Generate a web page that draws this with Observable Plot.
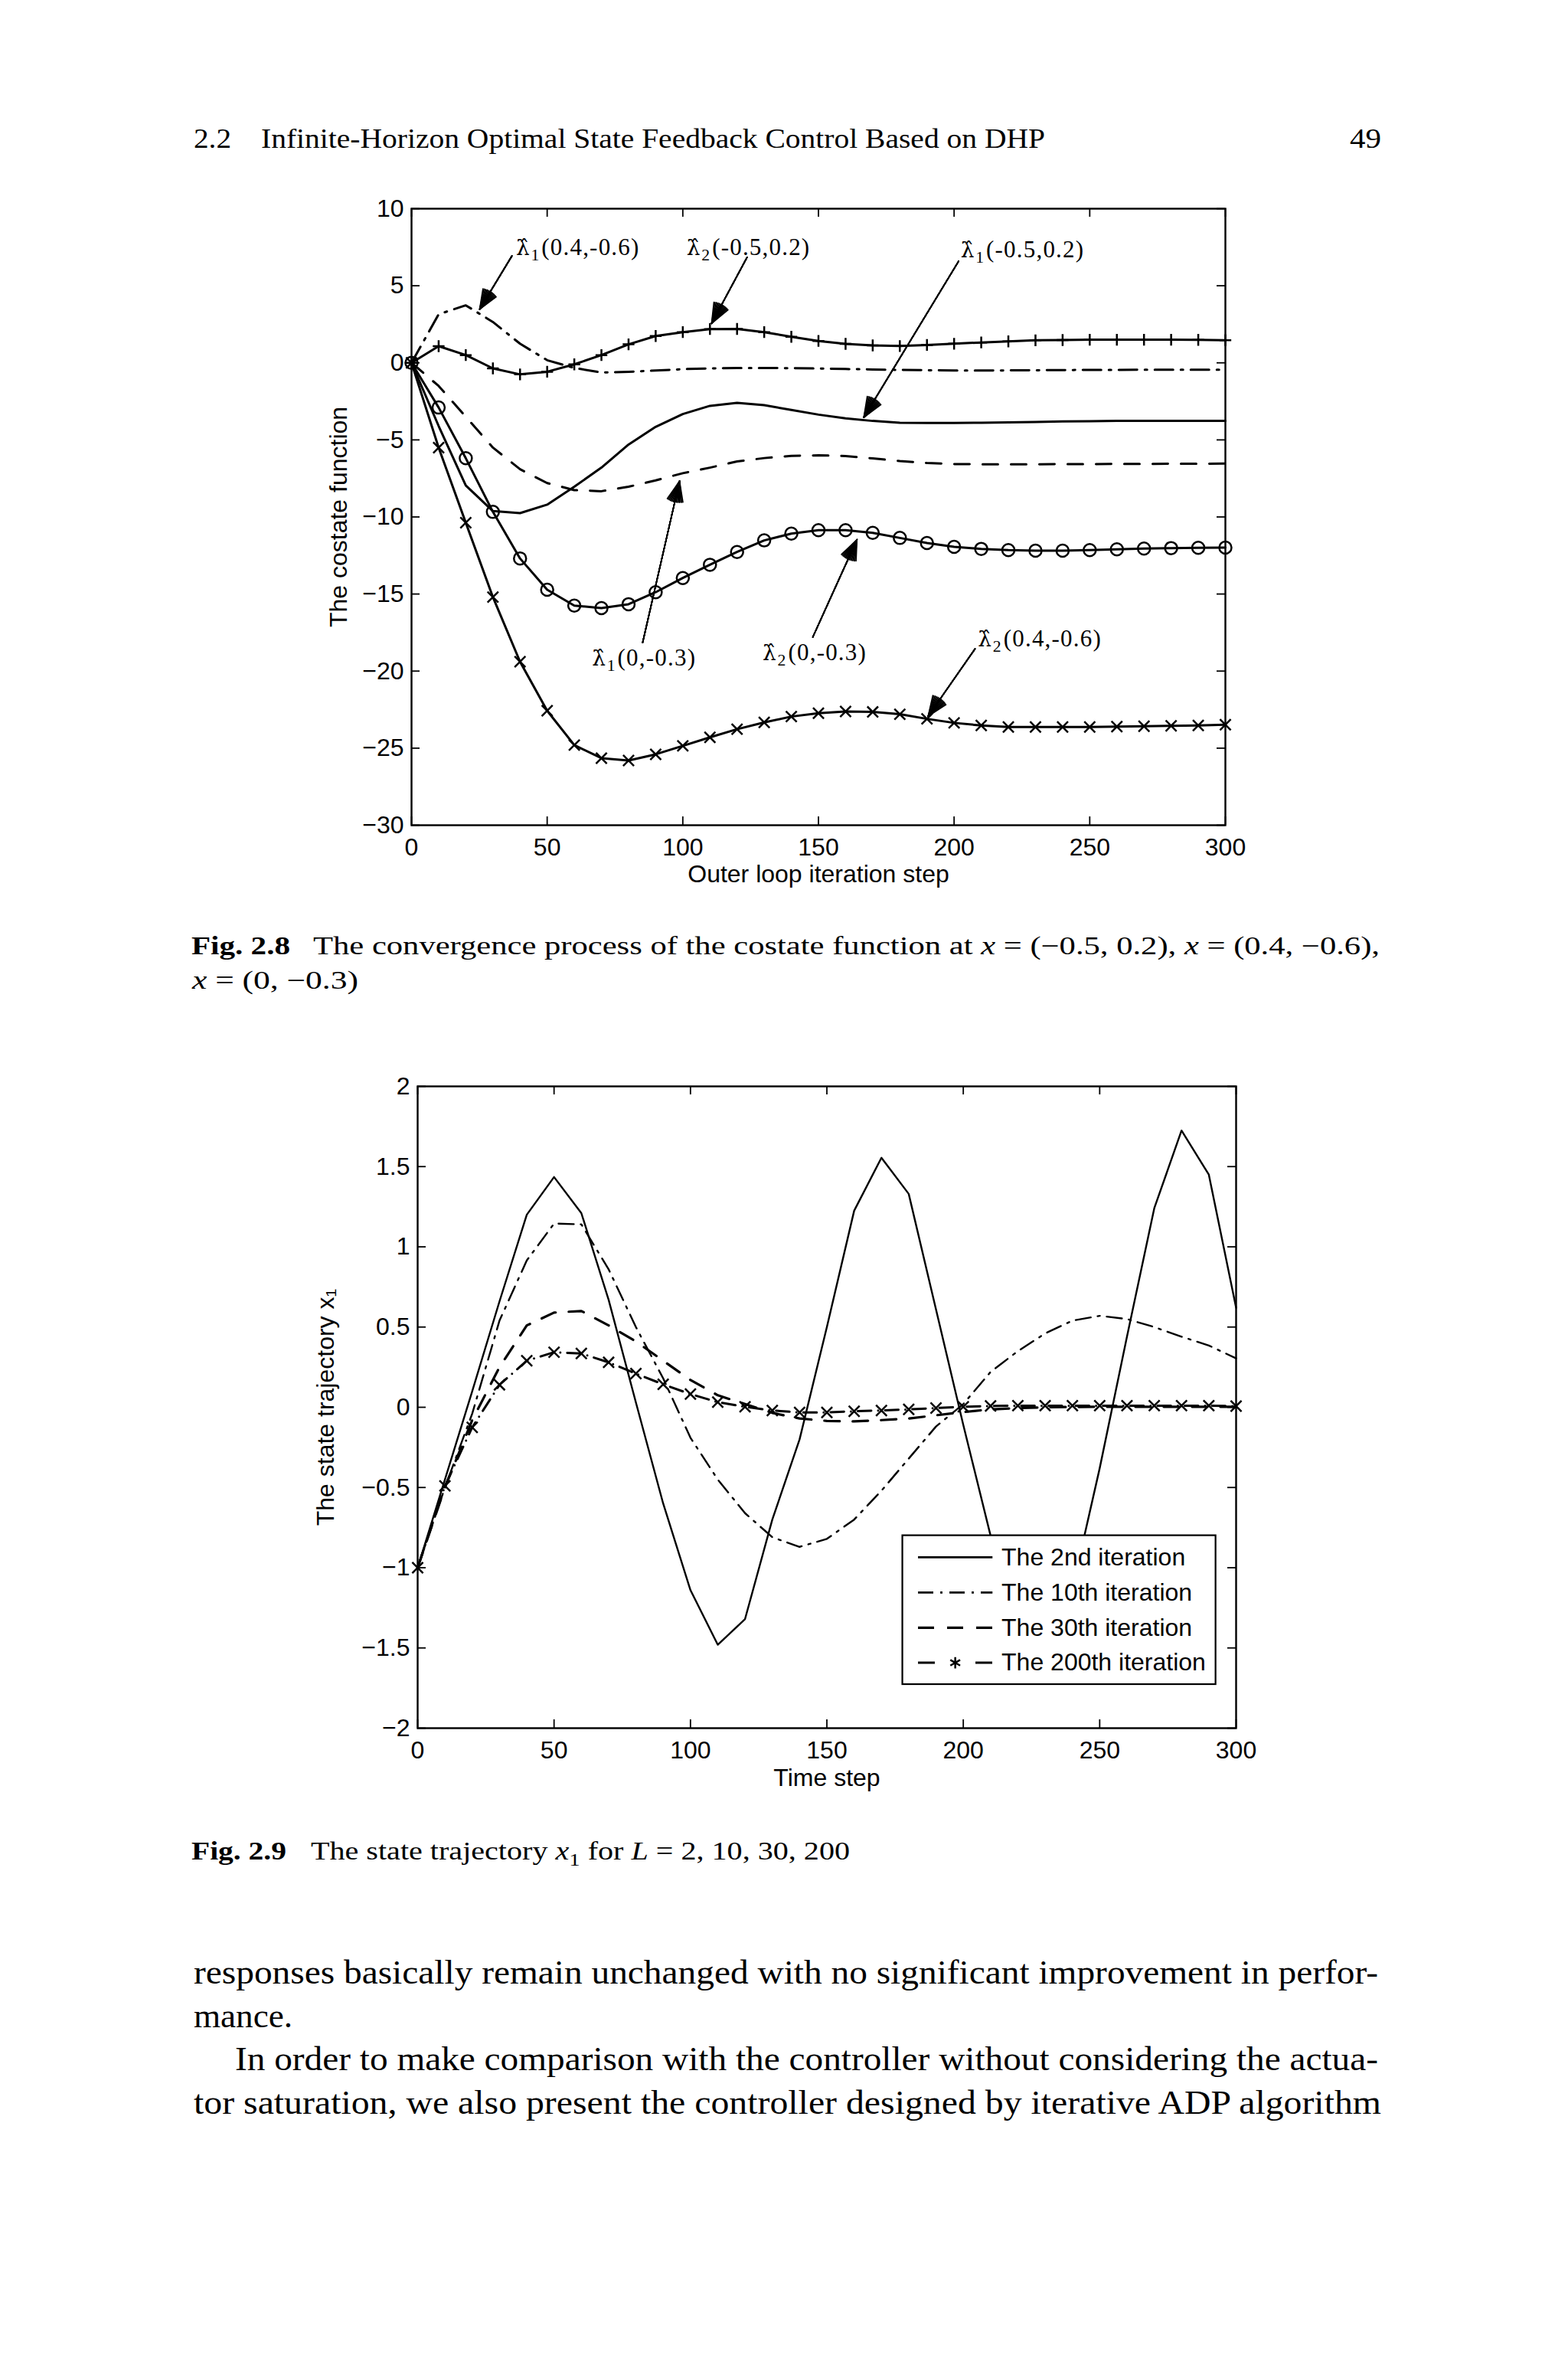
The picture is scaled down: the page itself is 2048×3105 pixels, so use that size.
<!DOCTYPE html>
<html><head><meta charset="utf-8">
<script src="https://cdn.jsdelivr.net/npm/d3@7"></script>
<script src="https://cdn.jsdelivr.net/npm/@observablehq/plot@0.6"></script>
<style>
html,body{margin:0;padding:0;background:#fff;}
#page{position:relative;width:2048px;height:3105px;background:#fff;overflow:hidden;}
#page .chart{position:absolute;}
#pagetext{position:absolute;left:0;top:0;}
</style></head><body><div id="page"></div>
<script>
// ---------- DATA ----------
const steps = [0,10,20,30,40,50,60,70,80,90,100,110,120,130,140,150,160,170,180,190,200,210,220,230,240,250,260,270,280,290,300];

// Fig 2.8 – costate function
const lam1_04_06 = [0, 3.15, 3.73, 2.65, 1.24, 0.17, -0.33, -0.63, -0.58, -0.5, -0.41, -0.36, -0.33, -0.33, -0.35, -0.37, -0.4, -0.43, -0.46, -0.48, -0.5, -0.5, -0.49, -0.48, -0.47, -0.46, -0.46, -0.45, -0.45, -0.45, -0.45];
const lam2_05_02 = [0, 1.08, 0.5, -0.36, -0.75, -0.58, -0.1, 0.5, 1.2, 1.74, 1.99, 2.19, 2.2, 1.99, 1.69, 1.42, 1.23, 1.13, 1.09, 1.16, 1.24, 1.32, 1.39, 1.46, 1.48, 1.5, 1.5, 1.5, 1.5, 1.49, 1.47];
const lam1_05_02 = [0, -4.1, -7.96, -9.62, -9.75, -9.2, -8.04, -6.8, -5.3, -4.15, -3.32, -2.79, -2.6, -2.75, -3.06, -3.36, -3.6, -3.77, -3.89, -3.9, -3.9, -3.89, -3.86, -3.84, -3.8, -3.79, -3.77, -3.77, -3.76, -3.76, -3.76];
const lam1_0_03 = [0, -1.5, -3.5, -5.5, -6.9, -7.8, -8.26, -8.33, -8.04, -7.63, -7.16, -6.8, -6.4, -6.18, -6.04, -6.0, -6.05, -6.2, -6.37, -6.5, -6.57, -6.58, -6.58, -6.58, -6.57, -6.57, -6.56, -6.56, -6.55, -6.55, -6.54];
const lam2_0_03 = [0, -2.9, -6.19, -9.67, -12.69, -14.72, -15.75, -15.91, -15.66, -14.88, -13.96, -13.1, -12.27, -11.52, -11.08, -10.86, -10.86, -11.03, -11.36, -11.69, -11.94, -12.07, -12.15, -12.19, -12.19, -12.15, -12.1, -12.05, -12.02, -12.0, -11.99];
const lam2_04_06 = [0, -5.5, -10.37, -15.2, -19.39, -22.57, -24.8, -25.65, -25.8, -25.4, -24.85, -24.3, -23.77, -23.33, -22.95, -22.73, -22.62, -22.65, -22.8, -23.1, -23.36, -23.53, -23.63, -23.63, -23.63, -23.63, -23.6, -23.58, -23.55, -23.53, -23.48];

const xTicks = [0, 50, 100, 150, 200, 250, 300];
const yTicks1 = [-30, -25, -20, -15, -10, -5, 0, 5, 10];
const xLabel1 = "Outer loop iteration step";
const yLabel1 = "The costate function";

const annoLabels = ["λ̂₁(0.4,-0.6)", "λ̂₂(-0.5,0.2)", "λ̂₁(-0.5,0.2)", "λ̂₁(0,-0.3)", "λ̂₂(0,-0.3)", "λ̂₂(0.4,-0.6)"];
const annoTextX = [61.3, 124.2, 225.2, 85.7, 148.6, 231.6];
const annoTextY = [7.5, 7.5, 7.34, -19.14, -18.8, -17.9];
const arrowX1 = [37, 123.7, 201.7, 85.2, 147.9, 207.7];
const arrowY1 = [6.93, 6.85, 6.6, -18.15, -17.8, -18.56];
const arrowX2 = [25.1, 110.6, 166.7, 98.8, 164.2, 190.4];
const arrowY2 = [3.47, 2.55, -3.55, -7.67, -11.47, -22.94];

// Fig 2.9 – state trajectory x1
const iter2 = [-1, -0.45, 0.1, 0.66, 1.2, 1.435, 1.21, 0.67, 0.03, -0.6, -1.14, -1.48, -1.32, -0.7, -0.2, 0.5, 1.225, 1.555, 1.33, 0.61, -0.11, -0.8, -1.55, -1.6, -1.13, -0.38, 0.44, 1.24, 1.725, 1.45, 0.62];
const iter10 = [-1, -0.5, -0.04, 0.54, 0.915, 1.145, 1.14, 0.86, 0.5, 0.18, -0.19, -0.45, -0.66, -0.81, -0.87, -0.82, -0.7, -0.52, -0.32, -0.12, 0.02, 0.22, 0.35, 0.46, 0.54, 0.57, 0.55, 0.5, 0.44, 0.385, 0.305];
const iter30 = [-1, -0.5, -0.08, 0.25, 0.51, 0.59, 0.6, 0.51, 0.41, 0.29, 0.17, 0.075, 0.02, -0.035, -0.07, -0.085, -0.088, -0.08, -0.07, -0.05, -0.03, -0.013, -0.005, 0, 0.002, 0.003, 0.003, 0.003, 0.003, 0.003, 0.003];
const iter200 = [-1, -0.49, -0.125, 0.14, 0.29, 0.343, 0.335, 0.28, 0.21, 0.143, 0.082, 0.032, 0.003, -0.02, -0.032, -0.032, -0.025, -0.02, -0.013, -0.005, 0.003, 0.008, 0.01, 0.01, 0.01, 0.01, 0.01, 0.01, 0.01, 0.01, 0.007];

const yTicks2 = [-2, -1.5, -1, -0.5, 0, 0.5, 1, 1.5, 2];
const xLabel2 = "Time step";
const yLabel2 = "The state trajectory x₁";
const legendLabels = ["The 2nd iteration", "The 10th iteration", "The 30th iteration", "The 200th iteration"];
const legendRowY = [-0.935, -1.155, -1.374, -1.592];
const legendBox = {x1: 177.8, x2: 292.6, y1: -0.8, y2: -1.728};
const legendSample = {x1: 183.4, x2: 210.7, tx: 214};

// ---------- HELPERS ----------
const series = arr => steps.map((x, i) => ({x, y: arr[i]}));
const fmt = d => (d < 0 ? "\u2212" : "") + Math.abs(d);
const anno = annoLabels.map((label, i) => ({label, tx: annoTextX[i], ty: annoTextY[i], x1: arrowX1[i], y1: arrowY1[i], x2: arrowX2[i], y2: arrowY2[i]}));
const sansFont = "Liberation Sans, Arial, Helvetica, sans-serif";
const serifFont = "Liberation Serif, Times New Roman, serif";
const FS = 32;

function boxTicks(yt, ih, iw) {
  const len = 11, sw = 1.8;
  return [
    Plot.ruleX(xTicks, {x: d => d, insetTop: ih - len, stroke: "black", strokeWidth: sw}),
    Plot.ruleX(xTicks, {x: d => d, insetBottom: ih - len, stroke: "black", strokeWidth: sw}),
    Plot.ruleY(yt, {y: d => d, insetRight: iw - len, stroke: "black", strokeWidth: sw}),
    Plot.ruleY(yt, {y: d => d, insetLeft: iw - len, stroke: "black", strokeWidth: sw})
  ];
}
function filledArrows(data) {
  const sw = 1.6;
  return [44, 38, 32, 26, 20, 14, 8, 3].map(a => Plot.arrow(data, {
    x1: "x1", y1: "y1", x2: "x2", y2: "y2", stroke: "black", strokeWidth: sw,
    headAngle: a, headLength: 42 / sw
  }));
}
// typeset "λ̂₁(...)" labels: hatted lambda (DejaVu handles the combining hat), real subscript
function typesetLambda(svgNode, size) {
  const subMap = {"₁": "1", "₂": "2"};
  d3.select(svgNode).selectAll("text").each(function () {
    const s = this.textContent;
    if (!s.startsWith("λ")) return;
    const sub = subMap[s[2]] || "";
    const rest = s.slice(3);
    const t = d3.select(this);
    t.text(null).attr("letter-spacing", 1.2);
    t.append("tspan").text("λ\u0302").attr("font-family", "DejaVu Serif, serif").attr("font-size", size * 0.9);
    t.append("tspan").text(sub).attr("font-size", size * 0.7).attr("dx", 0.02 * size).attr("dy", 0.22 * size);
    t.append("tspan").text(rest).attr("dx", 0.06 * size).attr("dy", -0.22 * size);
  });
}

const page = document.getElementById("page");

// ---------- CHART 1 ----------
{
  const W = 1300, H = 960, mL = 157, mT = 32, mR = 80, mB = 123;
  const iw = W - mL - mR, ih = H - mT - mB;
  const annoSize = 31;
  const chart = Plot.plot({
    width: W, height: H, marginLeft: mL, marginTop: mT, marginRight: mR, marginBottom: mB,
    x: {domain: [0, 300]}, y: {domain: [-30, 10]},
    style: {fontFamily: sansFont, fontSize: FS + "px", color: "black", background: "white", overflow: "visible"},
    marks: [
      ...boxTicks(yTicks1, ih, iw),
      Plot.axisX(xTicks, {tickSize: 0, tickPadding: 17, tickFormat: fmt, label: null}),
      Plot.axisY(yTicks1, {tickSize: 0, tickPadding: 10, tickFormat: fmt, label: null}),
      Plot.line(series(lam1_04_06), {x: "x", y: "y", stroke: "black", strokeWidth: 3, strokeDasharray: "24,10,3,10"}),
      Plot.line(series(lam1_05_02), {x: "x", y: "y", stroke: "black", strokeWidth: 3}),
      Plot.line(series(lam1_0_03), {x: "x", y: "y", stroke: "black", strokeWidth: 3, strokeDasharray: "20,17"}),
      Plot.line(series(lam2_05_02), {x: "x", y: "y", stroke: "black", strokeWidth: 3}),
      Plot.line(series(lam2_0_03), {x: "x", y: "y", stroke: "black", strokeWidth: 3}),
      Plot.line(series(lam2_04_06), {x: "x", y: "y", stroke: "black", strokeWidth: 3}),
      Plot.dot(series(lam2_05_02), {x: "x", y: "y", symbol: "plus", r: 5, stroke: "black", strokeWidth: 2.5}),
      Plot.dot(series(lam2_0_03), {x: "x", y: "y", symbol: "circle", r: 8, stroke: "black", strokeWidth: 2.5, fill: "none"}),
      Plot.dot(series(lam2_04_06), {x: "x", y: "y", symbol: "times", r: 6.5, stroke: "black", strokeWidth: 2.5}),
      ...filledArrows(anno),
      Plot.text(anno, {x: "tx", y: "ty", text: "label", fontFamily: serifFont, fontSize: annoSize, fill: "black"}),
      Plot.frame({stroke: "black", strokeWidth: 2.4}),
      Plot.text([xLabel1], {text: d => d, frameAnchor: "bottom", lineAnchor: "middle", textAnchor: "middle", dy: 64, fontSize: FS, fill: "black"}),
      Plot.text([yLabel1], {text: d => d, frameAnchor: "left", lineAnchor: "middle", textAnchor: "middle", dx: -95, rotate: -90, fontSize: FS, fill: "black"})
    ]
  });
  typesetLambda(chart, annoSize);
  chart.classList.add("chart");
  chart.style.left = "380px"; chart.style.top = "240px";
  page.appendChild(chart);
}

// ---------- CHART 2 ----------
{
  const W = 1300, H = 960, mL = 165, mT = 38, mR = 66, mB = 84;
  const iw = W - mL - mR, ih = H - mT - mB;
  const legendRows = legendLabels.map((label, i) => ({label, y: legendRowY[i], x1: legendSample.x1, x2: legendSample.x2, tx: legendSample.tx, mx: (legendSample.x1 + legendSample.x2) / 2}));
  const row = i => [legendRows[i]];
  const chart = Plot.plot({
    width: W, height: H, marginLeft: mL, marginTop: mT, marginRight: mR, marginBottom: mB,
    x: {domain: [0, 300]}, y: {domain: [-2, 2]},
    style: {fontFamily: sansFont, fontSize: FS + "px", color: "black", background: "white", overflow: "visible"},
    marks: [
      ...boxTicks(yTicks2, ih, iw),
      Plot.axisX(xTicks, {tickSize: 0, tickPadding: 17, tickFormat: fmt, label: null}),
      Plot.axisY(yTicks2, {tickSize: 0, tickPadding: 10, tickFormat: fmt, label: null}),
      Plot.line(series(iter2), {x: "x", y: "y", stroke: "black", strokeWidth: 2.4}),
      Plot.line(series(iter10), {x: "x", y: "y", stroke: "black", strokeWidth: 2.4, strokeDasharray: "20,9,3,9"}),
      Plot.line(series(iter30), {x: "x", y: "y", stroke: "black", strokeWidth: 3.2, strokeDasharray: "20,17"}),
      Plot.line(series(iter200), {x: "x", y: "y", stroke: "black", strokeWidth: 3, strokeDasharray: "0,9,17.6,9"}),
      Plot.dot(series(iter200), {x: "x", y: "y", symbol: "times", r: 6.5, stroke: "black", strokeWidth: 2.5}),
      Plot.rect([legendBox], {x1: "x1", x2: "x2", y1: "y1", y2: "y2", fill: "white", stroke: "black", strokeWidth: 2.2}),
      Plot.link(row(0), {x1: "x1", x2: "x2", y1: "y", y2: "y", stroke: "black", strokeWidth: 2.8}),
      Plot.link(row(1), {x1: "x1", x2: "x2", y1: "y", y2: "y", stroke: "black", strokeWidth: 2.8, strokeDasharray: "20,9,3,9"}),
      Plot.link(row(2), {x1: "x1", x2: "x2", y1: "y", y2: "y", stroke: "black", strokeWidth: 3.2, strokeDasharray: "21,17"}),
      Plot.link(row(3), {x1: "x1", x2: "x2", y1: "y", y2: "y", stroke: "black", strokeWidth: 3.2, strokeDasharray: "22,53,22"}),
      Plot.dot(row(3), {x: "mx", y: "y", symbol: "asterisk", r: 7, stroke: "black", strokeWidth: 2.5}),
      Plot.text(legendRows, {x: "tx", y: "y", text: "label", textAnchor: "start", fontSize: FS, fill: "black"}),
      Plot.frame({stroke: "black", strokeWidth: 2.4}),
      Plot.text([xLabel2], {text: d => d, frameAnchor: "bottom", lineAnchor: "middle", textAnchor: "middle", dy: 65, fontSize: FS, fill: "black"}),
      Plot.text([yLabel2], {text: d => d, frameAnchor: "left", lineAnchor: "middle", textAnchor: "middle", dx: -120, rotate: -90, fontSize: FS, fill: "black"})
    ]
  });
  chart.classList.add("chart");
  chart.style.left = "380px"; chart.style.top = "1380px";
  page.appendChild(chart);
}

// ---------- PAGE TEXT (header, captions, body) ----------
{
  const svg = d3.select(page).append("svg").attr("id", "pagetext")
    .attr("width", 2048).attr("height", 3105)
    .style("font-family", serifFont).style("pointer-events", "none");
  function line(x, y, size, len, parts, weight) {
    const t = svg.append("text").attr("x", x).attr("y", y).attr("font-size", size).attr("fill", "black");
    if (weight) t.attr("font-weight", weight);
    if (len) t.attr("textLength", len).attr("lengthAdjust", "spacingAndGlyphs");
    (Array.isArray(parts) ? parts : [[parts]]).forEach(p => {
      const s = t.append("tspan").text(p[0]);
      if (p[1] === "i") s.attr("font-style", "italic");
      if (p[1] === "sub") s.attr("font-size", size * 0.72).attr("dy", 8);
      if (p[1] === "unsub") s.attr("dy", -8);
    });
  }
  // running head
  line(253, 193, 36, 49, "2.2");
  line(341, 193, 36, 1024, "Infinite-Horizon Optimal State Feedback Control Based on DHP");
  line(1763, 193, 36, 41, "49");
  // caption Fig. 2.8
  line(250, 1246, 33, 129, "Fig. 2.8", "bold");
  line(409, 1246, 33, 1393, [["The convergence process of the costate function at "], ["x", "i"], [" = (\u22120.5, 0.2), "], ["x", "i"], [" = (0.4, \u22120.6),"]]);
  line(251, 1291, 33, 217, [["x", "i"], [" = (0, \u22120.3)"]]);
  // caption Fig. 2.9
  line(250, 2428, 33, 124, "Fig. 2.9", "bold");
  line(406, 2428, 33, 704, [["The state trajectory "], ["x", "i"], ["1", "sub"], [" for ", "unsub"], ["L", "i"], [" = 2, 10, 30, 200"]]);
  // body text
  line(253, 2590, 45, 1547, "responses basically remain unchanged with no significant improvement in perfor-");
  line(253, 2647, 45, 129, "mance.");
  line(307, 2703, 45, 1493, "In order to make comparison with the controller without considering the actua-");
  line(253, 2760, 45, 1551, "tor saturation, we also present the controller designed by iterative ADP algorithm");
}
</script>
</body></html>
